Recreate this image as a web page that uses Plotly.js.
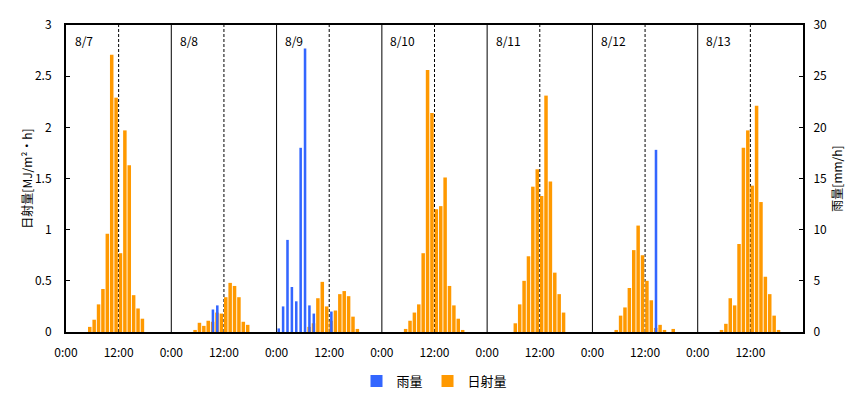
<!DOCTYPE html>
<html>
<head>
<meta charset="utf-8">
<script src="https://cdn.plot.ly/plotly-3.0.1.min.js"></script>
<style>
html,body{margin:0;padding:0;background:#fff;}
#chart{width:865px;height:397px;}
</style>
</head>
<body>
<div id="chart"></div>
<script>
// ---- data ----
const days = ["8/7","8/8","8/9","8/10","8/11","8/12","8/13"];
const tickLabels = ["0:00","12:00"];
// hourly solar radiation (MJ/m2·h), hours 0..23
const solar_0807 = [0,0,0,0,0,0.05,0.12,0.27,0.42,0.96,2.71,2.29,0.77,1.97,1.63,0.36,0.23,0.13,0,0,0,0,0,0];
const solar_0808 = [0,0,0,0,0,0.02,0.09,0.06,0.11,0.10,0.19,0.18,0.34,0.48,0.45,0.34,0.10,0.07,0,0,0,0,0,0];
const solar_0809 = [0,0,0,0,0,0,0,0.05,0.085,0.33,0.49,0.25,0.11,0.21,0.37,0.40,0.35,0.15,0.03,0,0,0,0,0];
const solar_0810 = [0,0,0,0,0,0.03,0.11,0.19,0.27,0.77,2.56,2.14,1.20,1.23,1.51,0.45,0.26,0.13,0.02,0,0,0,0,0];
const solar_0811 = [0,0,0,0,0,0,0.085,0.27,0.50,0.74,1.42,1.59,1.33,2.31,1.47,0.58,0.37,0.19,0,0,0,0,0,0];
const solar_0812 = [0,0,0,0,0,0.02,0.16,0.24,0.43,0.80,1.04,0.75,0.50,0.31,0.04,0.07,0.02,0,0.03,0,0,0,0,0];
const solar_0813 = [0,0,0,0,0,0.02,0.08,0.33,0.26,0.86,1.80,1.97,1.43,2.21,1.27,0.54,0.37,0.16,0.02,0,0,0,0,0];
// hourly rainfall (mm/h), hours 0..23
const rain_0807 = [0,0,0,0,0,0,0,0,0,0,0,0,0,0,0,0,0,0,0,0,0,0,0,0];
const rain_0808 = [0,0,0,0,0,0,0,0,0,2.2,2.6,0,0,0,0,0,0,0,0,0,0,0,0,0];
const rain_0809 = [0.35,2.5,9.0,4.4,3.0,18.0,27.7,2.6,1.8,0,0,0,2.0,0,0,0,0,0,0,0,0,0,0,0];
const rain_0810 = [0,0,0,0,0,0,0,0,0,0,0,0,0,0,0,0,0,0,0,0,0,0,0,0];
const rain_0811 = [0,0,0,0,0,0,0,0,0,0,0,0,0,0,0,0,0,0,0,0,0,0,0,0];
const rain_0812 = [0,0,0,0,0,0,0,0,0,0,0,0,0,0,17.8,0,0,0,0,0,0,0,0,0];
const rain_0813 = [0,0,0,0,0,0,0,0,0,0,0,0,0,0,0,0,0,0,0,0,0,0,0,0];

const solarDays = [solar_0807,solar_0808,solar_0809,solar_0810,solar_0811,solar_0812,solar_0813];
const rainDays  = [rain_0807,rain_0808,rain_0809,rain_0810,rain_0811,rain_0812,rain_0813];

// ---- build series ----
function flatten(arrs){
  const xs=[], ys=[];
  arrs.forEach((a,d)=>a.forEach((v,h)=>{ if(v>0){ xs.push(d*24+h); ys.push(v);} }));
  return {xs, ys};
}
const S = flatten(solarDays);
const R = flatten(rainDays);

const FONT = '"Noto Sans CJK JP", "Noto Sans", sans-serif';

const traces = [
  {type:'bar', name:'雨量', x:R.xs, y:R.ys, yaxis:'y2', offset:0.2, width:0.58,
   marker:{color:'#3366FF', line:{width:0}}},
  {type:'bar', name:'日射量', x:S.xs, y:S.ys, yaxis:'y', offset:0.02, width:0.8,
   marker:{color:'#FF9900', line:{width:0}}}
];

const tickvals=[], ticktext=[];
days.forEach((d,i)=>{ tickvals.push(i*24, i*24+12); ticktext.push(tickLabels[0], tickLabels[1]); });

const shapes=[];
days.forEach((d,i)=>{
  if(i>0) shapes.push({type:'line', xref:'x', yref:'paper', x0:i*24, x1:i*24, y0:0, y1:1,
                       layer:'below', line:{color:'#000', width:1}});
  shapes.push({type:'line', xref:'x', yref:'paper', x0:i*24+12, x1:i*24+12, y0:0, y1:1,
               layer:'below', line:{color:'#000', width:1, dash:'3px,2px'}});
});

const annotations = days.map((d,i)=>({
  text:d, xref:'x', yref:'paper', x:i*24+1.5, y:0.95, xanchor:'left', yanchor:'middle',
  showarrow:false, font:{family:FONT, size:12, color:'#000'}
}));

const layout = {
  width:865, height:397,
  margin:{l:66, r:62, t:25, b:65, autoexpand:false},
  paper_bgcolor:'#fff', plot_bgcolor:'#fff',
  barmode:'overlay',
  font:{family:FONT, size:12, color:'#000'},
  showlegend:true,
  legend:{orientation:'h', x:0.5, xanchor:'center', y:-0.16, yanchor:'middle',
          font:{family:FONT, size:13}, itemwidth:30, tracegroupgap:0},
  xaxis:{range:[0,168], tickvals:tickvals, ticktext:ticktext, ticks:'', showgrid:false,
         zeroline:false, showline:true, linecolor:'#000', linewidth:2, mirror:true,
         tickfont:{family:FONT, size:12}, ticklabelstandoff:9, automargin:false},
  yaxis:{range:[0,3], dtick:0.5, tick0:0, ticks:'inside', ticklen:4, tickcolor:'#000',
         showgrid:false, zeroline:false, showline:true, linecolor:'#000', linewidth:2, mirror:true,
         tickfont:{family:FONT, size:12}, ticklabelstandoff:10, automargin:false,
         title:{text:'日射量[MJ/m²・h]', font:{family:FONT, size:12}, standoff:0}},
  yaxis2:{range:[0,30], dtick:5, tick0:0, overlaying:'y', side:'right', ticks:'inside', ticklen:4,
          tickcolor:'#000', showgrid:false, zeroline:false, showline:true, linecolor:'#000', linewidth:2,
          tickfont:{family:FONT, size:12}, ticklabelstandoff:6, automargin:false,
          title:{text:'雨量[mm/h]', font:{family:FONT, size:12}, standoff:8}},
  shapes:shapes,
  annotations:annotations
};

Plotly.newPlot('chart', traces, layout, {displayModeBar:false, staticPlot:true});
</script>
</body>
</html>
